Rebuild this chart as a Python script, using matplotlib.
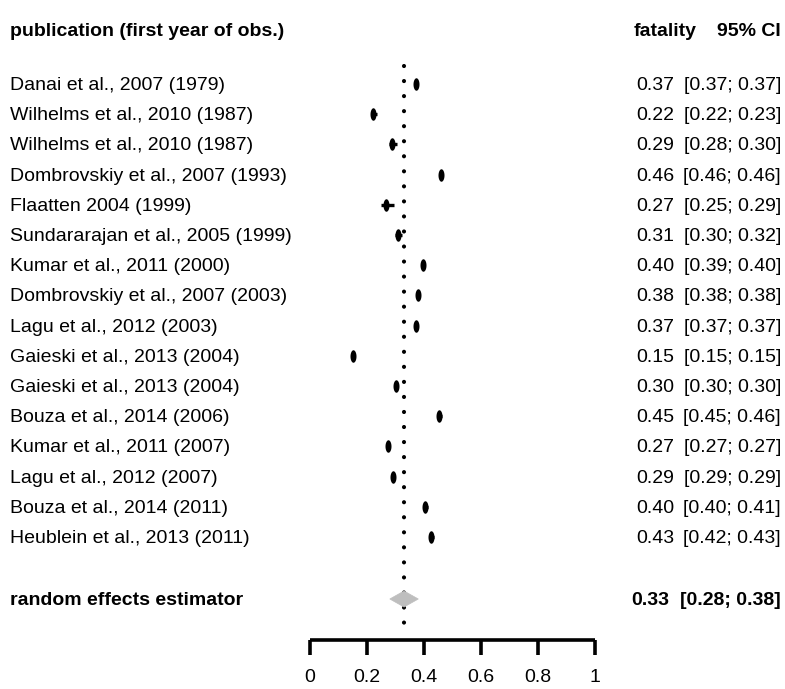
import matplotlib
matplotlib.use("Agg")
import matplotlib.pyplot as plt
import numpy as np

plt.rcParams['font.family'] = ['Liberation Sans', 'DejaVu Sans']

studies = ["Danai et al., 2007 (1979)", "Wilhelms et al., 2010 (1987)", "Wilhelms et al., 2010 (1987)",
           "Dombrovskiy et al., 2007 (1993)", "Flaatten 2004 (1999)", "Sundararajan et al., 2005 (1999)",
           "Kumar et al., 2011 (2000)", "Dombrovskiy et al., 2007 (2003)", "Lagu et al., 2012 (2003)",
           "Gaieski et al., 2013 (2004)", "Gaieski et al., 2013 (2004)", "Bouza et al., 2014 (2006)",
           "Kumar et al., 2011 (2007)", "Lagu et al., 2012 (2007)", "Bouza et al., 2014 (2011)",
           "Heublein et al., 2013 (2011)"]
fatality = [0.37, 0.22, 0.29, 0.46, 0.27, 0.31, 0.40, 0.38, 0.37, 0.15, 0.30, 0.45, 0.27, 0.29, 0.40, 0.43]
ci_low = [0.37, 0.22, 0.28, 0.46, 0.25, 0.30, 0.39, 0.38, 0.37, 0.15, 0.30, 0.45, 0.27, 0.29, 0.40, 0.42]
ci_high = [0.37, 0.23, 0.30, 0.46, 0.29, 0.32, 0.40, 0.38, 0.37, 0.15, 0.30, 0.46, 0.27, 0.29, 0.41, 0.43]
# more precise plotted estimates
est_plot = [0.372, 0.222, 0.289, 0.458, 0.268, 0.31, 0.396, 0.379, 0.372, 0.152, 0.30, 0.454, 0.272, 0.29, 0.403, 0.426]
re_est, re_low, re_high = 0.33, 0.28, 0.38
tick_vals = [0, 0.2, 0.4, 0.6, 0.8, 1]
tick_labels = ["0", "0.2", "0.4", "0.6", "0.8", "1"]

W, H = 785, 689
fig = plt.figure(figsize=(W / 100, H / 100), dpi=100)
ax = fig.add_axes([0, 0, 1, 1])
x0px, x1px = 310, 595
sc = x1px - x0px
row0, dy = 84, 30.2
ax.set_xlim(-x0px / sc, (W - x0px) / sc)
ax.set_ylim((H - row0) / dy, -row0 / dy)
ax.axis('off')

def ypx(p):
    return (p - row0) / dy

fs = 14
n = len(studies)
rows = np.arange(n)
re_row = ypx(599)

# dotted line at summary estimate
ax.plot([re_est, re_est], [ypx(66), ypx(630)], color='black', lw=3.0,
        dashes=(0.01, 3.6), dash_capstyle='round', zorder=1)

th = np.linspace(0, 2 * np.pi, 40)
ellipse = list(zip(0.48 * np.cos(th), np.sin(th)))
for i in range(n):
    ax.plot([ci_low[i] - 0.002, ci_high[i] + 0.004], [rows[i], rows[i]], color='black', lw=2.4,
            solid_capstyle='butt', zorder=2)
    ax.plot(est_plot[i], rows[i], marker=ellipse, markersize=9, color='black', mew=0, zorder=3)

# diamond
hh = 8 / dy
ax.fill([re_low, re_est, re_high, re_est], [re_row, re_row - hh, re_row, re_row + hh],
        facecolor='#BEBEBE', edgecolor='#BEBEBE', zorder=10, lw=0.5)

# axis
ax_y = ypx(640)
ax.plot([0, 1], [ax_y, ax_y], color='black', lw=2.6, solid_capstyle='butt')
for t, lab in zip(tick_vals, tick_labels):
    ax.plot([t, t], [ax_y, ypx(655)], color='black', lw=2.6, solid_capstyle='butt')
    ax.text(t, ypx(677), lab, ha='center', va='center', fontsize=fs)

# text columns
lx = -300 / sc
fhx = (697 - x0px) / sc
fx = (674 - x0px) / sc
fbx = (669 - x0px) / sc
cx = (781 - x0px) / sc
hy = ypx(32)
ax.text(lx, hy, "publication (first year of obs.)", ha='left', va='center', fontsize=fs, fontweight='bold')
ax.text(fhx, hy, "fatality", ha='right', va='center', fontsize=fs, fontweight='bold')
ax.text(cx, hy, "95% CI", ha='right', va='center', fontsize=fs, fontweight='bold')
toff = 1.5 / dy
for i in range(n):
    ax.text(lx, rows[i] + toff, studies[i], ha='left', va='center', fontsize=fs)
    ax.text(fx, rows[i] + toff, f"{fatality[i]:.2f}", ha='right', va='center', fontsize=fs)
    ax.text(cx, rows[i] + toff, f"[{ci_low[i]:.2f}; {ci_high[i]:.2f}]", ha='right', va='center', fontsize=fs)
ax.text(lx, re_row + toff, "random effects estimator", ha='left', va='center', fontsize=fs, fontweight='bold')
ax.text(fbx, re_row + toff, f"{re_est:.2f}", ha='right', va='center', fontsize=fs, fontweight='bold')
ax.text(cx, re_row + toff, f"[{re_low:.2f}; {re_high:.2f}]", ha='right', va='center', fontsize=fs, fontweight='bold')

fig.savefig("out.png", dpi=100)
